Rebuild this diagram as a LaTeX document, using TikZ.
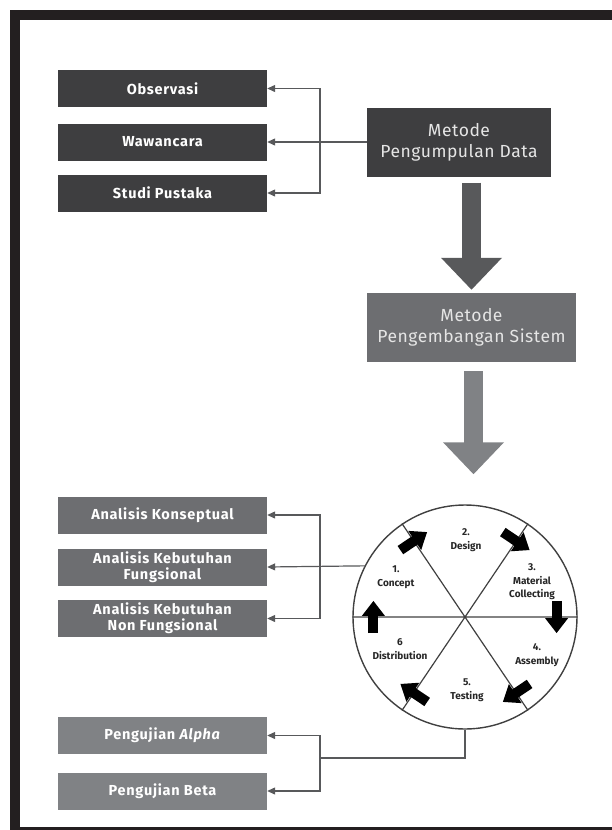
\documentclass[tikz,border=0pt]{standalone}
\usepackage{fontspec}
\setmainfont{Fira Sans}
\newfontfamily\boxfont{Fira Sans}[LetterSpace=5]
\newfontfamily\metfont{Fira Sans}[LetterSpace=3]
\usetikzlibrary{arrows.meta,positioning,calc}

\definecolor{framecol}{HTML}{231F20}
\definecolor{boxdark}{HTML}{3E3E40}
\definecolor{arrdark}{HTML}{58595B}
\definecolor{boxmid}{HTML}{6D6E71}
\definecolor{arrlight}{HTML}{808285}
\definecolor{linecol}{HTML}{58595B}

\begin{document}
\begin{tikzpicture}[x=1pt,y=-1pt]
 % all boxes are placed at pixel positions of the page (y runs downwards)
\tikzset{box/.style={fill=#1, text=white, minimum width=209pt, minimum height=37pt, inner sep=0pt, align=center, font=\boxfont\bfseries\fontsize{14.5}{15}\selectfont}}
\tikzset{metbox/.style={fill=#1, text=white!90!black, minimum height=69pt, inner sep=0pt, align=center, font=\metfont\fontsize{17.5}{21}\selectfont}}
\tikzset{conn/.style={draw=linecol, line width=1.2pt}, arr/.style={conn, -{Triangle[length=8pt,width=7pt]}}}
\tikzset{fat/.style={draw=#1, line width=19pt, -{Triangle[length=32pt,width=59pt]}}}
\tikzset{blk/.style={draw=black, line width=10pt, -{Triangle[length=15pt,width=22pt]}}}
\tikzset{step label/.style={font=\bfseries\fontsize{10}{13.5}\selectfont, align=center, text=black!85, inner sep=0pt}}

\useasboundingbox (0,0) rectangle (612,830);
\draw[framecol, line width=10pt] (15,15) rectangle (640,832);

% pengumpulan data
\node[box=boxdark] (obs) at (162.5,88.5) {Observasi};
\node[box=boxdark] (waw) at (162.5,142) {Wawancara};
\node[box=boxdark] (stu) at (162.5,193) {Studi Pustaka};
\node[metbox=boxdark, minimum width=184pt] (pd) at (459,142) {Metode\\Pengumpulan Data};
\coordinate (jd) at (320,142);
\draw[arr] (pd.west) -- (waw.east);
\draw[arr] (jd) |- (obs.east);
\draw[arr] (jd) |- (stu.east);

% pengembangan sistem
\node[metbox=boxmid, minimum width=209pt] (pe) at (471.5,327.5) {Metode\\Pengembangan Sistem};
\draw[fat=arrdark, shorten <=6pt, shorten >=3pt] (pd.south -| pe.north) -- (pe.north);

% siklus
\node[draw=black!75, line width=1.4pt, circle, minimum size=224pt, inner sep=0pt] (cyc) at (465,617) {};
\draw[fat=arrlight, shorten <=9pt, shorten >=30pt] ([xshift=2pt]pe.south) -- ([xshift=2pt]pe.south |- cyc.north);
\draw[black!75, line width=1.2pt] (cyc.0) -- (cyc.180) (cyc.56) -- (cyc.236) (cyc.124) -- (cyc.304);
\foreach \a in {0,56,124,180,236,304}
  \draw[blk] ($(cyc.center)+(\a+10:93pt)$) -- ($(cyc.center)+(\a-10:93pt)$);

\node[step label] (s1) at (396,577) {1.\\Concept};
\node[step label] (s2) at (466,540) {2.\\Design};
\node[step label] (s3) at (532,582) {3.\\Material\\Collecting};
\node[step label] (s4) at (537,655) {4.\\Assembly};
\node[step label] (s5) at (467,690) {5.\\Testing};
\node[step label] (s6) at (400,649) {6\\Distribution};

% analisis
\node[box=boxmid] (ak) at (162.5,515) {Analisis Konseptual};
\node[box=boxmid, font=\boxfont\bfseries\fontsize{14.5}{16}\selectfont] (akf) at (162.5,567) {Analisis Kebutuhan\\Fungsional};
\node[box=boxmid, font=\boxfont\bfseries\fontsize{14.5}{16}\selectfont] (anf) at (162.5,618.5) {Analisis Kebutuhan\\Non Fungsional};
\coordinate (jk) at (320,567);
\draw[arr] (cyc.153.4) -- (akf.east);
\draw[arr] (jk) |- (ak.east);
\draw[arr] (jk) |- (anf.east);

% pengujian
\node[box=arrlight] (alp) at (162.5,735.5) {Pengujian \textit{Alpha}};
\node[box=arrlight] (bet) at (162.5,791) {Pengujian Beta};
\coordinate (jp) at (320,758);
\draw[conn] (cyc.south) |- (jp);
\draw[arr] (jp) |- (alp.east);
\draw[arr] (jp) |- (bet.east);

\end{tikzpicture}
\end{document}
